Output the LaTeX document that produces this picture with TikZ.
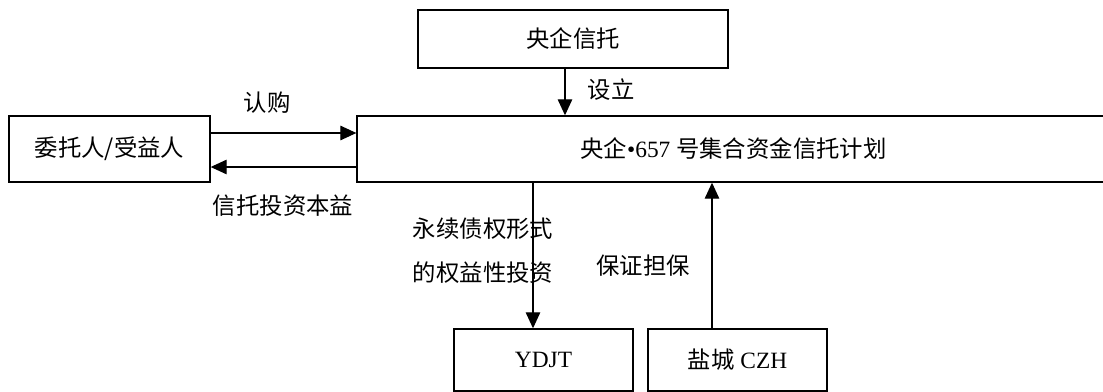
\documentclass[tikz,border=0pt]{standalone}
\usepackage{fontspec}
\setmainfont{Liberation Serif}
\newfontfamily\cjk{Noto Sans CJK SC}
\usetikzlibrary{arrows.meta,calc,positioning}

\begin{document}
\begin{tikzpicture}[x=0.02cm, y=-0.02cm, >={Triangle[length=3.2mm,width=2.9mm]},
  line width=0.7pt,
  box/.style={draw, line width=0.8pt, inner sep=0pt, font=\cjk\fontsize{13.3}{16}\selectfont},
  lbl/.style={inner sep=0pt, font=\cjk\fontsize{13.3}{16}\selectfont}]
\clip (0,0) rectangle (1103,392);

% Boxes
\node[box, minimum width=4.02cm, minimum height=1.32cm] (truster) at (109.5,149) {委托人/受益人};
\node[box, minimum width=6.2cm, minimum height=1.16cm] (trust) at (573,39) {央企信托};
\node[box, minimum width=15.06cm, minimum height=1.32cm] (plan) at (733.5,149)
  {央企{\rmfamily •657 }号集合资金信托计划};
\node[box, minimum width=3.58cm, minimum height=1.24cm] (ydjt) at (543.5,360) {\rmfamily YDJT};
\node[box, minimum width=3.58cm, minimum height=1.24cm] (czh) at (737.5,360) {盐城{\rmfamily\ CZH}};

% Subscription and returns
\draw[->] ($(truster.east)+(0,-16)$) -- ($(plan.west)+(0,-16)$);
\draw[->] ($(plan.west)+(0,18)$) -- ($(truster.east)+(0,18)$);
\node[lbl] (lsub) at (267,103) {认购};
\node[lbl] (lret) at (283,206) {信托投资本益};

% Setting up
\coordinate (s) at ($(trust.south)+(-8,0)$);
\draw[->] (s) -- (s |- plan.north);
\node[lbl] (lset) at (611,90) {设立};

% Investment
\coordinate (i) at ($(ydjt.north)+(-10.5,0)$);
\draw[->] (plan.south -| i) -- (i);
\node[lbl, align=left, font=\cjk\fontsize{13.3}{25}\selectfont] (linv) at (483,251)
  {永续债权形式\\的权益性投资};

% Guarantee
\coordinate (g) at ($(czh.north)+(-25.5,0)$);
\draw[->] (g) -- (g |- plan.south);
\node[lbl] (lgua) at (643,266) {保证担保};
\end{tikzpicture}
\end{document}
